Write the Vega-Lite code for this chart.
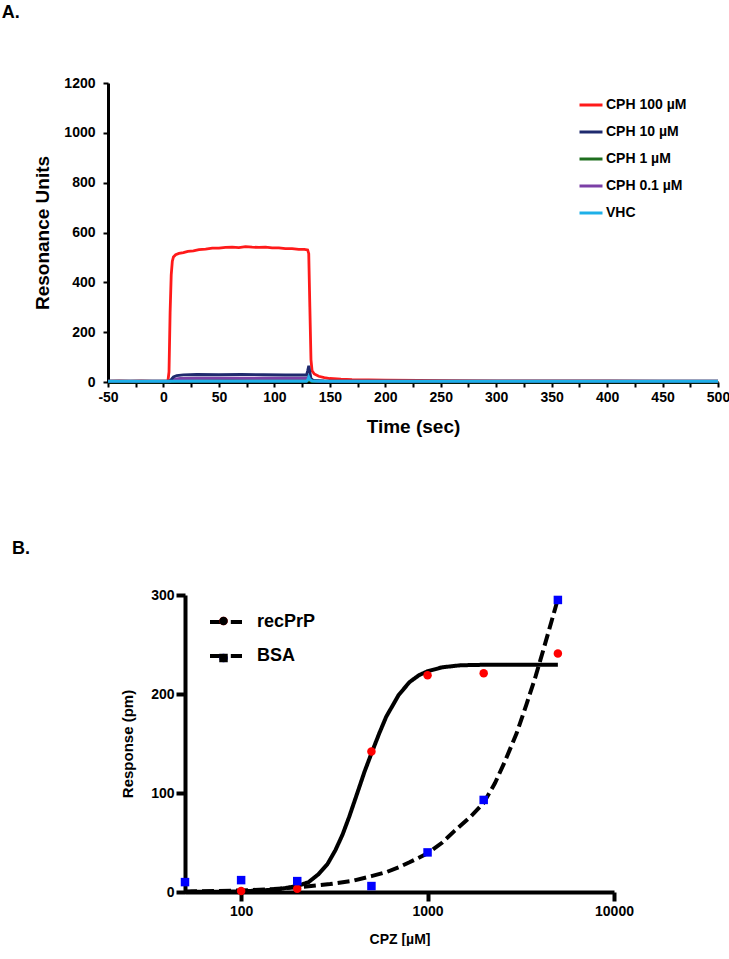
{
  "$schema": "https://vega.github.io/schema/vega-lite/v6.json",
  "background": "white",
  "padding": {"left": 1, "top": 4, "right": 0, "bottom": 0},
  "spacing": 104,
  "config": {
    "view": {"stroke": null},
    "font": "Liberation Sans",
    "axis": {"grid": false, "domainColor": "black", "tickColor": "black", "labelColor": "black", "titleColor": "black", "labelFont": "Liberation Sans", "titleFont": "Liberation Sans", "labelFontWeight": "bold", "titleFontWeight": "bold", "labelOverlap": false, "labelFlush": false},
    "legend": {"labelFont": "Liberation Sans", "labelFontWeight": "bold", "labelColor": "black", "padding": 0},
    "title": {"font": "Liberation Sans", "fontWeight": "bold", "color": "black"}
  },
  "resolve": {
    "scale": {"color": "independent", "shape": "independent", "stroke": "independent", "strokeDash": "independent"},
    "legend": {"color": "independent", "shape": "independent", "stroke": "independent", "strokeDash": "independent"}
  },
  "vconcat": [
    {
      "width": 610,
      "height": 299,
      "title": {"text": "A.", "anchor": "start", "frame": "bounds", "fontSize": 18, "dx": -32, "offset": 54},
      "data": {"values": [
        {"s": "CPH 100 µM", "t": -50, "ru": 3}, {"s": "CPH 100 µM", "t": -40, "ru": 4}, {"s": "CPH 100 µM", "t": -30, "ru": 3}, {"s": "CPH 100 µM", "t": -20, "ru": 4}, {"s": "CPH 100 µM", "t": -10, "ru": 3}, {"s": "CPH 100 µM", "t": 0, "ru": 3}, {"s": "CPH 100 µM", "t": 4, "ru": 3}, {"s": "CPH 100 µM", "t": 5, "ru": 40}, {"s": "CPH 100 µM", "t": 6, "ru": 280}, {"s": "CPH 100 µM", "t": 7, "ru": 430}, {"s": "CPH 100 µM", "t": 8, "ru": 485}, {"s": "CPH 100 µM", "t": 9, "ru": 502}, {"s": "CPH 100 µM", "t": 11, "ru": 511}, {"s": "CPH 100 µM", "t": 14, "ru": 516}, {"s": "CPH 100 µM", "t": 18, "ru": 519}, {"s": "CPH 100 µM", "t": 22, "ru": 524}, {"s": "CPH 100 µM", "t": 27, "ru": 526}, {"s": "CPH 100 µM", "t": 32, "ru": 531}, {"s": "CPH 100 µM", "t": 38, "ru": 533}, {"s": "CPH 100 µM", "t": 44, "ru": 537}, {"s": "CPH 100 µM", "t": 50, "ru": 537}, {"s": "CPH 100 µM", "t": 56, "ru": 540}, {"s": "CPH 100 µM", "t": 62, "ru": 541}, {"s": "CPH 100 µM", "t": 68, "ru": 539}, {"s": "CPH 100 µM", "t": 74, "ru": 543}, {"s": "CPH 100 µM", "t": 80, "ru": 541}, {"s": "CPH 100 µM", "t": 86, "ru": 540}, {"s": "CPH 100 µM", "t": 92, "ru": 541}, {"s": "CPH 100 µM", "t": 98, "ru": 538}, {"s": "CPH 100 µM", "t": 104, "ru": 538}, {"s": "CPH 100 µM", "t": 110, "ru": 535}, {"s": "CPH 100 µM", "t": 116, "ru": 535}, {"s": "CPH 100 µM", "t": 122, "ru": 532}, {"s": "CPH 100 µM", "t": 127, "ru": 532}, {"s": "CPH 100 µM", "t": 130, "ru": 530}, {"s": "CPH 100 µM", "t": 131, "ru": 515}, {"s": "CPH 100 µM", "t": 132, "ru": 300}, {"s": "CPH 100 µM", "t": 133, "ru": 90}, {"s": "CPH 100 µM", "t": 134, "ru": 45}, {"s": "CPH 100 µM", "t": 136, "ru": 32}, {"s": "CPH 100 µM", "t": 140, "ru": 23}, {"s": "CPH 100 µM", "t": 145, "ru": 18}, {"s": "CPH 100 µM", "t": 150, "ru": 14}, {"s": "CPH 100 µM", "t": 160, "ru": 11}, {"s": "CPH 100 µM", "t": 170, "ru": 9}, {"s": "CPH 100 µM", "t": 185, "ru": 8}, {"s": "CPH 100 µM", "t": 200, "ru": 7}, {"s": "CPH 100 µM", "t": 230, "ru": 6}, {"s": "CPH 100 µM", "t": 260, "ru": 5}, {"s": "CPH 100 µM", "t": 300, "ru": 4}, {"s": "CPH 100 µM", "t": 350, "ru": 4}, {"s": "CPH 100 µM", "t": 400, "ru": 4}, {"s": "CPH 100 µM", "t": 450, "ru": 3}, {"s": "CPH 100 µM", "t": 500, "ru": 3},
        {"s": "CPH 1 µM", "t": -50, "ru": 1}, {"s": "CPH 1 µM", "t": 0, "ru": 1}, {"s": "CPH 1 µM", "t": 5, "ru": 1}, {"s": "CPH 1 µM", "t": 8, "ru": 4}, {"s": "CPH 1 µM", "t": 12, "ru": 5}, {"s": "CPH 1 µM", "t": 30, "ru": 5}, {"s": "CPH 1 µM", "t": 60, "ru": 6}, {"s": "CPH 1 µM", "t": 90, "ru": 5}, {"s": "CPH 1 µM", "t": 120, "ru": 5}, {"s": "CPH 1 µM", "t": 130, "ru": 5}, {"s": "CPH 1 µM", "t": 131, "ru": 9}, {"s": "CPH 1 µM", "t": 133, "ru": 3}, {"s": "CPH 1 µM", "t": 140, "ru": 2}, {"s": "CPH 1 µM", "t": 200, "ru": 1}, {"s": "CPH 1 µM", "t": 500, "ru": 1},
        {"s": "CPH 0.1 µM", "t": -50, "ru": 2}, {"s": "CPH 0.1 µM", "t": 0, "ru": 2}, {"s": "CPH 0.1 µM", "t": 5, "ru": 2}, {"s": "CPH 0.1 µM", "t": 7, "ru": 7}, {"s": "CPH 0.1 µM", "t": 10, "ru": 12}, {"s": "CPH 0.1 µM", "t": 15, "ru": 14}, {"s": "CPH 0.1 µM", "t": 30, "ru": 15}, {"s": "CPH 0.1 µM", "t": 60, "ru": 15}, {"s": "CPH 0.1 µM", "t": 90, "ru": 15}, {"s": "CPH 0.1 µM", "t": 120, "ru": 15}, {"s": "CPH 0.1 µM", "t": 130, "ru": 15}, {"s": "CPH 0.1 µM", "t": 131, "ru": 22}, {"s": "CPH 0.1 µM", "t": 133, "ru": 6}, {"s": "CPH 0.1 µM", "t": 140, "ru": 3}, {"s": "CPH 0.1 µM", "t": 200, "ru": 2}, {"s": "CPH 0.1 µM", "t": 500, "ru": 2},
        {"s": "CPH 10 µM", "t": -50, "ru": 3}, {"s": "CPH 10 µM", "t": 0, "ru": 3}, {"s": "CPH 10 µM", "t": 5, "ru": 3}, {"s": "CPH 10 µM", "t": 7, "ru": 10}, {"s": "CPH 10 µM", "t": 9, "ru": 20}, {"s": "CPH 10 µM", "t": 12, "ru": 26}, {"s": "CPH 10 µM", "t": 18, "ru": 29}, {"s": "CPH 10 µM", "t": 30, "ru": 30}, {"s": "CPH 10 µM", "t": 50, "ru": 29}, {"s": "CPH 10 µM", "t": 70, "ru": 30}, {"s": "CPH 10 µM", "t": 90, "ru": 29}, {"s": "CPH 10 µM", "t": 110, "ru": 28}, {"s": "CPH 10 µM", "t": 125, "ru": 28}, {"s": "CPH 10 µM", "t": 129, "ru": 28}, {"s": "CPH 10 µM", "t": 130, "ru": 45}, {"s": "CPH 10 µM", "t": 131, "ru": 65}, {"s": "CPH 10 µM", "t": 132, "ru": 40}, {"s": "CPH 10 µM", "t": 133, "ru": 15}, {"s": "CPH 10 µM", "t": 135, "ru": 6}, {"s": "CPH 10 µM", "t": 145, "ru": 4}, {"s": "CPH 10 µM", "t": 200, "ru": 3}, {"s": "CPH 10 µM", "t": 500, "ru": 3},
        {"s": "VHC", "t": -50, "ru": 3}, {"s": "VHC", "t": 0, "ru": 3}, {"s": "VHC", "t": 50, "ru": 3}, {"s": "VHC", "t": 100, "ru": 3}, {"s": "VHC", "t": 129, "ru": 3}, {"s": "VHC", "t": 130, "ru": 8}, {"s": "VHC", "t": 131, "ru": 20}, {"s": "VHC", "t": 132, "ru": 10}, {"s": "VHC", "t": 134, "ru": 4}, {"s": "VHC", "t": 150, "ru": 3}, {"s": "VHC", "t": 250, "ru": 3}, {"s": "VHC", "t": 350, "ru": 3}, {"s": "VHC", "t": 500, "ru": 3}
      ]},
      "mark": {"type": "line", "strokeWidth": 2.8},
      "encoding": {
        "x": {"field": "t", "type": "quantitative", "scale": {"domain": [-50, 500], "nice": false, "zero": false},
          "axis": {"title": "Time (sec)", "values": [-50, -25, 0, 25, 50, 75, 100, 125, 150, 175, 200, 225, 250, 275, 300, 325, 350, 375, 400, 425, 450, 475, 500], "labelExpr": "datum.value % 50 == 0 ? '' + datum.value : ''", "labelFontSize": 14, "titleFontSize": 19, "domainWidth": 3, "tickWidth": 2, "tickSize": 5, "labelPadding": 3, "titlePadding": 13}},
        "y": {"field": "ru", "type": "quantitative", "scale": {"domain": [0, 1200], "nice": false},
          "axis": {"title": "Resonance Units", "values": [0, 200, 400, 600, 800, 1000, 1200], "format": "d", "labelFontSize": 14, "titleFontSize": 19, "domainWidth": 3, "tickWidth": 2, "tickSize": 5, "labelPadding": 8, "titlePadding": 11}},
        "color": {"field": "s", "type": "nominal",
          "scale": {"domain": ["CPH 100 µM", "CPH 10 µM", "CPH 1 µM", "CPH 0.1 µM", "VHC"], "range": ["#ff1a1a", "#1f2a6e", "#1e6e1e", "#7b3fa6", "#1eb0e8"]},
          "legend": {"title": null, "orient": "none", "legendX": 470, "legendY": 9, "symbolType": "stroke", "symbolSize": 529, "symbolStrokeWidth": 3, "labelFontSize": 14, "labelOffset": 2, "rowPadding": 7}}
      }
    },
    {
      "title": {"text": "B.", "anchor": "start", "frame": "bounds", "fontSize": 18, "dx": -96, "offset": 30},
      "spacing": 0,
      "resolve": {
        "scale": {"color": "independent", "shape": "independent", "stroke": "independent", "strokeDash": "independent"},
        "legend": {"color": "independent", "shape": "independent", "stroke": "independent", "strokeDash": "independent"}
      },
      "hconcat": [
        {
          "width": 12,
          "height": 297,
          "data": {"values": []},
          "mark": "point"
        },
        {
          "width": 429,
          "height": 297,
          "layer": [
            {
              "data": {"values": [
                {"fit": "recPrP", "cpz": 50, "r": 0.1}, {"fit": "recPrP", "cpz": 80, "r": 0.3}, {"fit": "recPrP", "cpz": 100, "r": 0.7}, {"fit": "recPrP", "cpz": 130, "r": 1.6}, {"fit": "recPrP", "cpz": 160, "r": 3}, {"fit": "recPrP", "cpz": 200, "r": 6}, {"fit": "recPrP", "cpz": 230, "r": 10}, {"fit": "recPrP", "cpz": 260, "r": 18}, {"fit": "recPrP", "cpz": 290, "r": 28}, {"fit": "recPrP", "cpz": 320, "r": 42}, {"fit": "recPrP", "cpz": 350, "r": 58}, {"fit": "recPrP", "cpz": 380, "r": 76}, {"fit": "recPrP", "cpz": 420, "r": 100}, {"fit": "recPrP", "cpz": 460, "r": 122}, {"fit": "recPrP", "cpz": 500, "r": 140}, {"fit": "recPrP", "cpz": 550, "r": 160}, {"fit": "recPrP", "cpz": 600, "r": 177}, {"fit": "recPrP", "cpz": 700, "r": 199}, {"fit": "recPrP", "cpz": 800, "r": 212}, {"fit": "recPrP", "cpz": 900, "r": 219}, {"fit": "recPrP", "cpz": 1000, "r": 223}, {"fit": "recPrP", "cpz": 1200, "r": 227}, {"fit": "recPrP", "cpz": 1500, "r": 229}, {"fit": "recPrP", "cpz": 2000, "r": 229.5}, {"fit": "recPrP", "cpz": 3000, "r": 229.6}, {"fit": "recPrP", "cpz": 5000, "r": 229.6},
                {"fit": "BSA", "cpz": 50, "r": 0.5}, {"fit": "BSA", "cpz": 100, "r": 1.5}, {"fit": "BSA", "cpz": 150, "r": 3}, {"fit": "BSA", "cpz": 200, "r": 4.7}, {"fit": "BSA", "cpz": 300, "r": 8}, {"fit": "BSA", "cpz": 400, "r": 11.5}, {"fit": "BSA", "cpz": 500, "r": 16}, {"fit": "BSA", "cpz": 600, "r": 20}, {"fit": "BSA", "cpz": 700, "r": 25}, {"fit": "BSA", "cpz": 800, "r": 30}, {"fit": "BSA", "cpz": 1000, "r": 39}, {"fit": "BSA", "cpz": 1200, "r": 50}, {"fit": "BSA", "cpz": 1400, "r": 62}, {"fit": "BSA", "cpz": 1700, "r": 76}, {"fit": "BSA", "cpz": 2000, "r": 90}, {"fit": "BSA", "cpz": 2300, "r": 110}, {"fit": "BSA", "cpz": 2600, "r": 132}, {"fit": "BSA", "cpz": 3000, "r": 160}, {"fit": "BSA", "cpz": 3400, "r": 190}, {"fit": "BSA", "cpz": 3800, "r": 218}, {"fit": "BSA", "cpz": 4200, "r": 246}, {"fit": "BSA", "cpz": 4600, "r": 272}, {"fit": "BSA", "cpz": 5000, "r": 296}
              ]},
              "mark": {"type": "line", "strokeWidth": 4},
              "encoding": {
                "x": {"field": "cpz", "type": "quantitative", "scale": {"type": "log", "domain": [50, 10000], "nice": false},
                  "axis": {"title": "CPZ [µM]", "values": [100, 1000, 10000], "format": "d", "labelFontSize": 14, "titleFontSize": 14, "domainWidth": 4, "tickWidth": 4, "tickSize": 9, "labelPadding": 3, "titlePadding": 14}},
                "y": {"field": "r", "type": "quantitative", "scale": {"domain": [0, 300], "nice": false},
                  "axis": {"title": "Response (pm)", "values": [0, 100, 200, 300], "labelFontSize": 14, "titleFontSize": 15, "domainWidth": 4, "tickWidth": 4, "tickSize": 9, "labelPadding": 2, "titlePadding": 15}},
                "stroke": {"field": "fit", "type": "nominal", "scale": {"domain": ["recPrP", "BSA"], "range": ["black", "black"]},
                  "legend": {"title": null, "orient": "none", "legendX": 23, "legendY": 9, "symbolType": "M-1,0H-0.3M0.3,0H1", "symbolSize": 1024, "symbolStrokeWidth": 4, "symbolStrokeColor": "black", "labelFontSize": 18, "labelOffset": 13, "rowPadding": 7}},
                "strokeDash": {"field": "fit", "type": "nominal", "scale": {"domain": ["recPrP", "BSA"], "range": [[1, 0], [12, 5]]}, "legend": null}
              }
            },
            {
              "data": {"values": [
                {"protein": "recPrP", "cpz": 100, "r": 1}, {"protein": "recPrP", "cpz": 200, "r": 3.4}, {"protein": "recPrP", "cpz": 500, "r": 142}, {"protein": "recPrP", "cpz": 1000, "r": 219}, {"protein": "recPrP", "cpz": 2000, "r": 221}, {"protein": "recPrP", "cpz": 5000, "r": 241},
                {"protein": "BSA", "cpz": 50, "r": 10}, {"protein": "BSA", "cpz": 100, "r": 12}, {"protein": "BSA", "cpz": 200, "r": 11}, {"protein": "BSA", "cpz": 500, "r": 6}, {"protein": "BSA", "cpz": 1000, "r": 40}, {"protein": "BSA", "cpz": 2000, "r": 93}, {"protein": "BSA", "cpz": 5000, "r": 295}
              ]},
              "mark": {"type": "point", "filled": true, "opacity": 1, "size": 72, "strokeWidth": 0},
              "encoding": {
                "x": {"field": "cpz", "type": "quantitative"},
                "y": {"field": "r", "type": "quantitative"},
                "color": {"field": "protein", "type": "nominal", "sort": ["recPrP", "BSA"], "scale": {"range": ["#ff0000", "#0000ff"]},
                  "legend": {"title": null, "orient": "none", "legendX": 29.5, "legendY": 17, "symbolSize": 72, "symbolStrokeWidth": 0, "labelFontSize": 18, "labelOpacity": 0, "rowPadding": 19}},
                "shape": {"field": "protein", "type": "nominal", "sort": ["recPrP", "BSA"], "scale": {"range": ["circle", "square"]},
                  "legend": {"title": null, "orient": "none", "legendX": 29.5, "legendY": 17, "symbolSize": 72, "symbolStrokeWidth": 0, "labelFontSize": 18, "labelOpacity": 0, "rowPadding": 19}}
              }
            }
          ]
        }
      ]
    }
  ]
}
